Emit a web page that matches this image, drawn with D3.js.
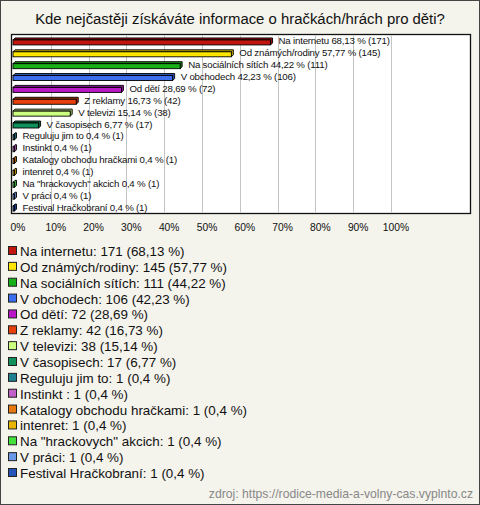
<!DOCTYPE html>
<html><head><meta charset="utf-8">
<script src="https://cdn.jsdelivr.net/npm/d3@7"></script>
<style>
html,body{margin:0;padding:0;background:#fff;}
svg{display:block;}
text{font-family:"Liberation Sans",Arial,sans-serif;}
</style></head>
<body>
<script>
const categories = ["Na internetu","Od známých/rodiny","Na sociálních sítích","V obchodech","Od dětí","Z reklamy","V televizi","V časopisech","Reguluju jim to","Instinkt ","Katalogy obchodu hračkami","intenret","Na \"hrackovych\" akcich","V práci","Festival Hračkobraní"];
const counts = [171,145,111,106,72,42,38,17,1,1,1,1,1,1,1];
const percents = [68.13,57.77,44.22,42.23,28.69,16.73,15.14,6.77,0.4,0.4,0.4,0.4,0.4,0.4,0.4];
const colors = ["#c0160e","#ffe600","#18b018","#3b6ff0","#b818c8","#e8400c","#ccff80","#10905a","#1f7f8f","#c060c8","#e87810","#e8b400","#44e03c","#6a98e8","#2454b8"];
const ticks = [0,10,20,30,40,50,60,70,80,90,100];
const title = "Kde nejčastěji získáváte informace o hračkách/hrách pro děti?";
const source = "zdroj: https://rodice-media-a-volny-cas.vyplnto.cz";

const W = 480, H = 505;
const fmt = v => String(v).replace(".", ",");
const svg = d3.select("body").append("svg").attr("width", W).attr("height", H);
svg.append("rect").attr("x",0.5).attr("y",0.5).attr("width",W-1).attr("height",H-1)
  .attr("fill","#f4f3ec").attr("stroke","#444");

svg.append("text").attr("x",240).attr("y",24).attr("text-anchor","middle")
  .attr("font-size",14.9).attr("fill","#111").text(title);

const plot = {x0:11.5, x1:470.5, y0:34.5, y1:213.5};
svg.append("rect").attr("x",plot.x0).attr("y",plot.y0).attr("width",plot.x1-plot.x0).attr("height",plot.y1-plot.y0)
  .attr("fill","#fff").attr("stroke","#111").attr("stroke-width",1.3);

const x = d3.scaleLinear().domain([0,100]).range([13,391]);
const y = d3.scaleBand().domain(categories).range([plot.y0+1, plot.y1]).paddingInner(0);

svg.append("g").selectAll("line").data(ticks.slice(1)).join("line")
  .attr("x1",d=>Math.round(x(d))+0.5).attr("x2",d=>Math.round(x(d))+0.5)
  .attr("y1",plot.y0+1).attr("y2",plot.y1-1).attr("stroke","#c4c4c4");

const bh = 5, off = 2;
const g = svg.append("g").selectAll("g").data(categories).join("g")
  .attr("transform",(d,i)=>`translate(0,${y(d)+ (y.bandwidth()-bh)/2 + 1})`);
g.each(function(d,i){
  const s = d3.select(this);
  const x0 = x(0), w = Math.max(x(percents[i]) - x0, 1.5);
  const c = colors[i], dark = d3.color(c).darker(0.8);
  s.append("path")
    .attr("d",`M${x0},0 L${x0+off},${-off} L${x0+w+off},${-off} L${x0+w+off},${bh-off} L${x0+w},${bh} L${x0+w},0 Z`)
    .attr("fill",dark).attr("stroke","#000").attr("stroke-width",0.9);
  s.append("rect").attr("x",x0).attr("y",0).attr("width",w).attr("height",bh)
    .attr("fill",c).attr("stroke","#000").attr("stroke-width",0.9);
  s.append("text").attr("x",x0+w+off+6).attr("y",bh-0.5)
    .attr("font-size",9.7).attr("fill","#111").attr("letter-spacing",-0.2)
    .text(`${d} ${fmt(percents[i])} % (${counts[i]})`);
});

svg.append("g").selectAll("text").data(ticks).join("text")
  .attr("x",d=>x(d)+5).attr("y",231).attr("text-anchor","middle")
  .attr("font-size",10.3).attr("fill","#111").text(d=>d+"%");

const ly = d3.scaleLinear().domain([0,14]).range([251,473]);
const lg = svg.append("g").selectAll("g").data(categories).join("g")
  .attr("transform",(d,i)=>`translate(0,${ly(i)})`);
lg.append("rect").attr("x",8.5).attr("y",-4.5).attr("width",8).attr("height",8)
  .attr("fill",(d,i)=>colors[i]).attr("stroke","#222").attr("stroke-width",1);
lg.append("text").attr("x",20).attr("y",5).attr("font-size",13.4).attr("fill","#111")
  .text((d,i)=>`${d}: ${counts[i]} (${fmt(percents[i])} %)`);

svg.append("text").attr("x",473).attr("y",498).attr("text-anchor","end")
  .attr("font-size",12.2).attr("fill","#888").text(source);
</script>
</body></html>
